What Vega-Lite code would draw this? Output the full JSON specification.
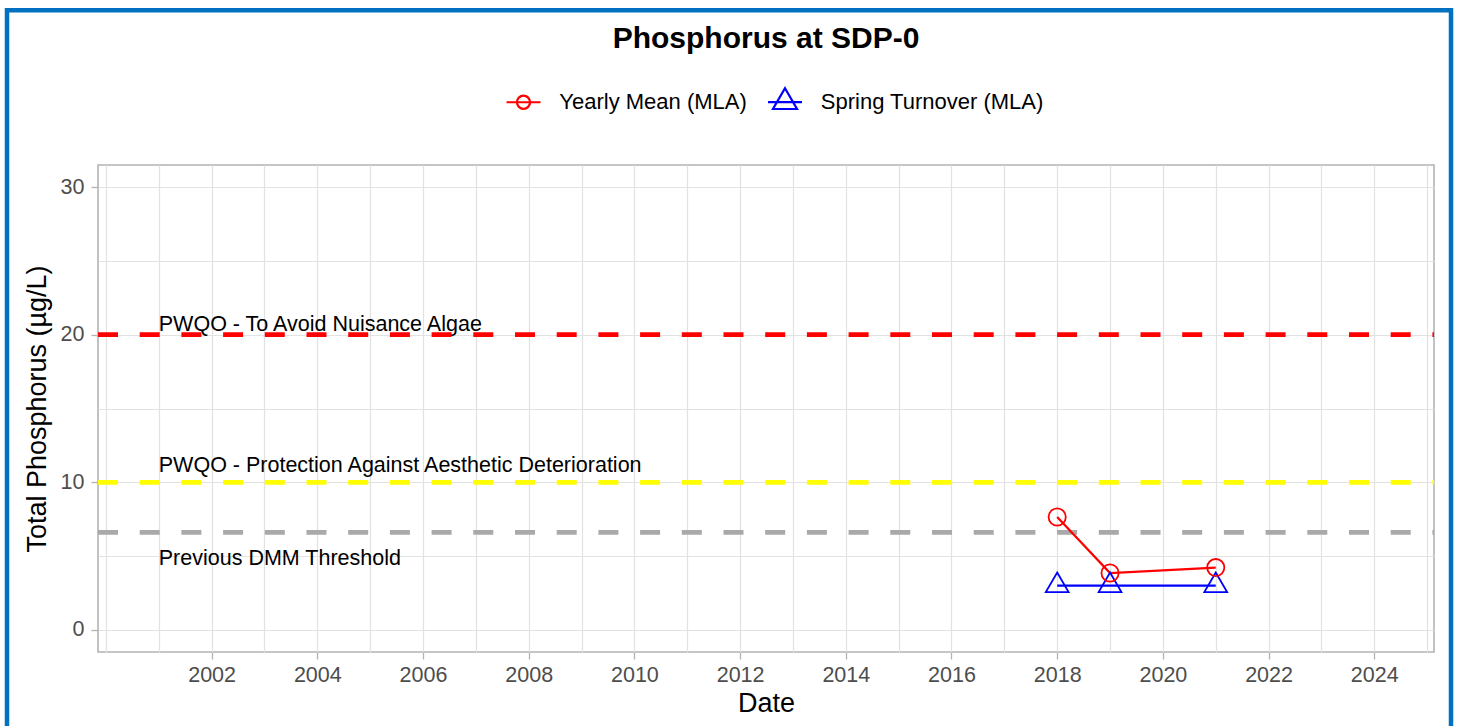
{
  "$schema": "https://vega.github.io/schema/vega-lite/v6.json",
  "width": 1336,
  "height": 487,
  "autosize": "none",
  "padding": {"left": 98, "top": 165, "right": 24, "bottom": 74},
  "background": "white",
  "title": {
    "text": "Phosphorus at SDP-0",
    "fontSize": 30,
    "fontWeight": "bold",
    "font": "Liberation Sans",
    "color": "black",
    "anchor": "middle",
    "frame": "group",
    "baseline": "alphabetic",
    "offset": -68
  },
  "datasets": {
    "thresholds": [
      {"name": "PWQO - To Avoid Nuisance Algae", "value": 20},
      {"name": "PWQO - Protection Against Aesthetic Deterioration", "value": 10},
      {"name": "Previous DMM Threshold", "value": 6.6}
    ],
    "annotations": [
      {"label": "PWQO - To Avoid Nuisance Algae", "year": 2001, "value": 20.27},
      {"label": "PWQO - Protection Against Aesthetic Deterioration", "year": 2001, "value": 10.7},
      {"label": "Previous DMM Threshold", "year": 2001, "value": 4.4}
    ],
    "series": [
      {"series": "Yearly Mean (MLA)", "year": 2018, "value": 7.65},
      {"series": "Yearly Mean (MLA)", "year": 2019, "value": 3.85},
      {"series": "Yearly Mean (MLA)", "year": 2021, "value": 4.22},
      {"series": "Spring Turnover (MLA)", "year": 2018, "value": 3.0},
      {"series": "Spring Turnover (MLA)", "year": 2019, "value": 3.0},
      {"series": "Spring Turnover (MLA)", "year": 2021, "value": 3.0}
    ]
  },
  "encoding": {
    "y": {
      "field": "value",
      "type": "quantitative",
      "scale": {"domain": [-1.5, 31.5], "nice": false, "zero": false},
      "axis": {
        "title": "Total Phosphorus (µg/L)",
        "values": [0, 5, 10, 15, 20, 25, 30],
        "labelExpr": "datum.value % 10 == 0 ? datum.label : ''",
        "tickOpacity": {"condition": {"test": "datum.value % 10 != 0", "value": 0}, "value": 1},
        "grid": true,
        "gridColor": "#E2E2E2",
        "gridWidth": 1.2,
        "domain": false,
        "tickColor": "#B3B3B3",
        "tickSize": 7,
        "tickWidth": 1.3,
        "labelFontSize": 21.5,
        "labelColor": "#4D4D4D",
        "labelPadding": 7,
        "labelOverlap": false,
        "labelFlush": false,
        "titleFontSize": 27,
        "titleFontWeight": "normal",
        "titleColor": "black",
        "titlePadding": 9
      }
    }
  },
  "config": {
    "view": {"stroke": "#B3B3B3", "strokeWidth": 1.6}
  },
  "layer": [
    {
      "data": {"name": "annotations"},
      "mark": {"type": "text", "align": "left", "baseline": "alphabetic", "fontSize": 21.5, "font": "Liberation Sans", "color": "black"},
      "encoding": {
        "x": {
          "field": "year",
          "type": "quantitative",
          "scale": {"domain": [1999.85, 2025.13], "nice": false, "zero": false},
          "axis": {
            "title": "Date",
            "values": [2000, 2001, 2002, 2003, 2004, 2005, 2006, 2007, 2008, 2009, 2010, 2011, 2012, 2013, 2014, 2015, 2016, 2017, 2018, 2019, 2020, 2021, 2022, 2023, 2024, 2025],
            "format": "d",
            "labelExpr": "(datum.value % 2 == 0 && datum.value >= 2002) ? datum.label : ''",
            "tickOpacity": {"condition": {"test": "datum.value % 2 == 1 || datum.value < 2002", "value": 0}, "value": 1},
            "grid": true,
            "gridColor": "#E2E2E2",
            "gridWidth": 1.2,
            "domain": false,
            "tickColor": "#B3B3B3",
            "tickSize": 7,
            "tickWidth": 1.3,
            "labelFontSize": 21.5,
            "labelColor": "#4D4D4D",
            "labelPadding": 5,
            "labelOverlap": false,
            "labelFlush": false,
            "titleFontSize": 27,
            "titleFontWeight": "normal",
            "titleColor": "black",
            "titlePadding": 5
          }
        },
        "text": {"field": "label", "type": "nominal"}
      }
    },
    {
      "data": {"name": "thresholds"},
      "mark": {"type": "rule", "strokeWidth": 4.7, "strokeDash": [20, 21.7], "strokeDashOffset": 18.4, "strokeCap": "butt"},
      "encoding": {
        "y": {"field": "value", "type": "quantitative"},
        "stroke": {
          "field": "name",
          "type": "nominal",
          "scale": {
            "domain": ["PWQO - To Avoid Nuisance Algae", "PWQO - Protection Against Aesthetic Deterioration", "Previous DMM Threshold"],
            "range": ["#FF0000", "#FFFF00", "#A9A9A9"]
          },
          "legend": null
        }
      }
    },
    {
      "data": {"name": "series"},
      "mark": {"type": "line", "strokeWidth": 2.2},
      "encoding": {
        "x": {"field": "year", "type": "quantitative"},
        "color": {
          "field": "series",
          "type": "nominal",
          "scale": {"domain": ["Yearly Mean (MLA)", "Spring Turnover (MLA)"], "range": ["#FF0000", "#0000FF"]}
        }
      }
    },
    {
      "data": {"name": "series"},
      "transform": [{"filter": "datum.series === 'Spring Turnover (MLA)'"}],
      "mark": {"type": "point", "filled": false, "size": 400, "strokeWidth": 1.8, "opacity": 1, "shape": "M0,-1.316L1.14,0.658L-1.14,0.658Z"},
      "encoding": {
        "x": {"field": "year", "type": "quantitative"},
        "color": {"field": "series", "type": "nominal"}
      }
    },
    {
      "data": {"name": "series"},
      "transform": [{"filter": "datum.series === 'Yearly Mean (MLA)'"}],
      "mark": {"type": "point", "filled": false, "size": 400, "strokeWidth": 1.8, "opacity": 1, "shape": "M0.86,0A0.86,0.86 0 1,1 -0.86,0A0.86,0.86 0 1,1 0.86,0Z"},
      "encoding": {
        "x": {"field": "year", "type": "quantitative"},
        "color": {"field": "series", "type": "nominal"}
      }
    },
    {
      "data": {"name": "series"},
      "mark": {"type": "point", "filled": false, "opacity": 0, "strokeWidth": 2},
      "encoding": {
        "x": {"field": "year", "type": "quantitative"},
        "color": {
          "field": "series",
          "type": "nominal",
          "legend": {
            "title": null,
            "orient": "none",
            "legendX": 412,
            "legendY": -76.5,
            "direction": "horizontal",
            "padding": 0,
            "symbolSize": 590,
            "symbolStrokeWidth": 2.2,
            "symbolOpacity": 1,
            "labelFontSize": 22,
            "labelFont": "Liberation Sans",
            "labelColor": "black",
            "labelOffset": 22.3,
            "labelLimit": 500,
            "columnPadding": 16.5
          }
        },
        "shape": {
          "field": "series",
          "type": "nominal",
          "scale": {
            "domain": ["Yearly Mean (MLA)", "Spring Turnover (MLA)"],
            "range": ["M-1.4,0L1.4,0M0.54,0A0.54,0.54 0 1,1 -0.54,0A0.54,0.54 0 1,1 0.54,0", "M-1.4,0L1.4,0M0,-1.14L0.99,0.57L-0.99,0.57Z"]
          },
          "legend": {
            "title": null,
            "orient": "none",
            "legendX": 412,
            "legendY": -76.5,
            "direction": "horizontal",
            "padding": 0,
            "symbolSize": 590,
            "symbolStrokeWidth": 2.2,
            "symbolOpacity": 1,
            "labelFontSize": 22,
            "labelFont": "Liberation Sans",
            "labelColor": "black",
            "labelOffset": 22.3,
            "labelLimit": 500,
            "columnPadding": 16.5
          }
        }
      }
    },
    {
      "data": {"name": "thresholds"},
      "mark": {"type": "point", "opacity": 0, "filled": true},
      "encoding": {
        "fill": {
          "field": "value",
          "type": "quantitative",
          "scale": {"range": ["rgba(0,0,0,0)", "rgba(0,0,0,0)"]},
          "legend": {
            "title": null,
            "orient": "none",
            "legendX": -91,
            "legendY": -154.7,
            "direction": "vertical",
            "padding": 0,
            "labelOpacity": 0,
            "labelFontSize": 1,
            "labelLimit": 1,
            "gradientLength": 725,
            "gradientThickness": 1444,
            "gradientStrokeColor": "#0070C0",
            "gradientStrokeWidth": 4.5
          }
        }
      }
    }
  ]
}
